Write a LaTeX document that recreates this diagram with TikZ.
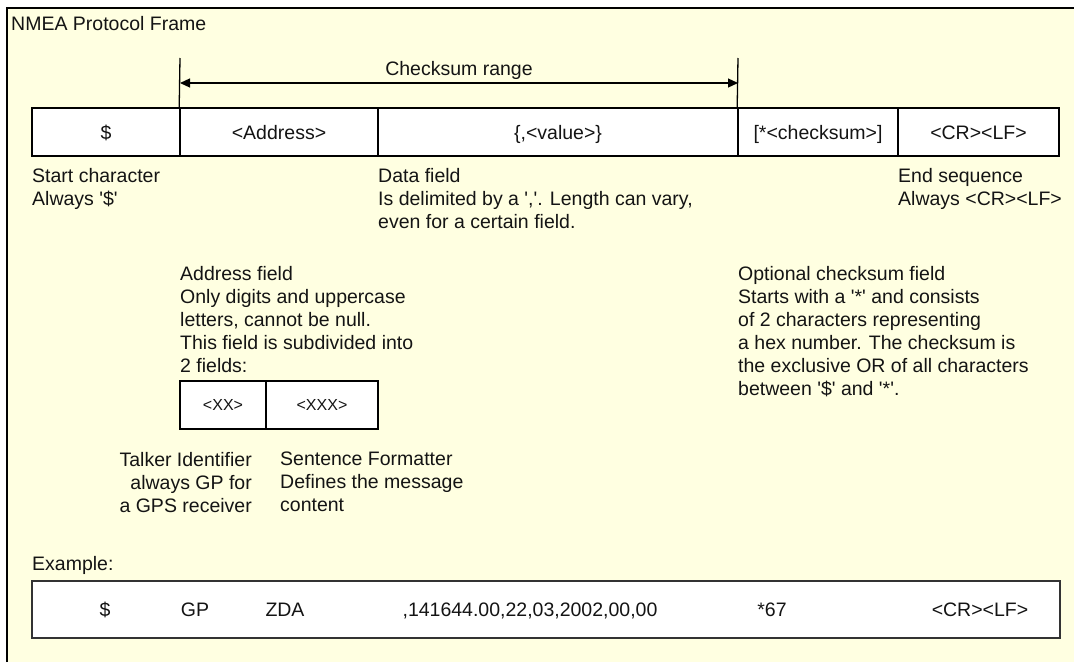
\documentclass[tikz,border=0pt]{standalone}
\usepackage{fontspec}
\newfontfamily\arialf{Liberation Sans}
\usetikzlibrary{arrows.meta}
\definecolor{bgyellow}{RGB}{255,255,225}
\definecolor{inkc}{RGB}{20,20,20}
\begin{document}
\begin{tikzpicture}[x=1pt,y=-1pt,
  txt/.style={font=\arialf\fontsize{19.5}{23}\selectfont, inner sep=0pt, text=inkc},
  blk/.style={txt, align=left, anchor=north west},
  cell/.style={draw=black, line width=1.6pt, fill=white, minimum height=48pt, inner sep=0pt,
    text height=14pt, text depth=0pt, font=\arialf\fontsize{19.5}{23}\selectfont, text=inkc},
  subcell/.style={cell, font=\arialf\fontsize{16}{18}\selectfont, text height=11.5pt},
  tick/.style={line width=1.3pt, draw=black},
  rng/.style={line width=1.2pt, {Triangle[length=10pt,width=9pt]}-{Triangle[length=10pt,width=9pt]}},
  ex/.style={txt, anchor=base}
]
\useasboundingbox (0,0) rectangle (1074,662);
\fill[white] (0,0) rectangle (1074,662);
\fill[bgyellow] (7,8) rectangle (1074,662);
\draw[line width=2pt, draw=black] (7,662) -- (7,8) -- (1074,8);

% title
\node[blk] (title) at (11,16) {NMEA Protocol Frame};

% main frame
\node[cell, minimum width=148pt] (c1) at (106,132) {\$};
\node[cell, minimum width=198pt] (c2) at (279,132) {<Address>};
\node[cell, minimum width=360pt] (c3) at (558,132) {\{,<value>\}};
\node[cell, minimum width=160pt] (c4) at (818,132) {[*<checksum>]};
\node[cell, minimum width=161pt] (c5) at (978.5,132) {<CR><LF>};

% checksum range
\coordinate (tL) at (180,58);
\coordinate (tR) at (738,58);
\coordinate (aL) at (180,83);
\coordinate (aR) at (738,83);
\draw[tick] (c2.north west) -- (tL);
\draw[tick] (c4.north west) -- (tR);
\draw[rng] (aL) -- (aR);
\node[ex] (crange) at (459,75) {Checksum range};

% descriptions
\node[blk] (start) at (32,168) {Start character\\Always '\$'};
\node[blk] (data) at (378,168) {Data field\\Is delimited by a ','. Length can vary,\\even for a certain field.};
\node[blk] (endseq) at (898,168) {End sequence\\Always <CR><LF>};

\node[blk] (addr) at (180,266) {Address field\\Only digits and uppercase\\letters, cannot be null.\\This field is subdivided into\\2 fields:};
\node[subcell, minimum width=86pt] (xx) at (223,405) {<XX>};
\node[subcell, minimum width=112pt] (xxx) at (322,405) {<XXX>};
\node[txt, align=right, anchor=north east] (talker) at (252,452) {Talker Identifier\\always GP for\\a GPS receiver};
\node[blk] (sent) at (280,452) {Sentence Formatter\\Defines the message\\content};

\node[blk] (opt) at (738,266) {Optional checksum field\\Starts with a '*' and consists\\of 2 characters representing\\a hex number. The checksum is\\the exclusive OR of all characters\\between '\$' and '*'.};

% example
\node[blk] (exlabel) at (32,556) {Example:};
\node[draw=black!80, line width=1.6pt, fill=white, minimum width=1028pt, minimum height=57pt, inner sep=0pt] (exbox) at (546,609.5) {};
\node[ex] (e1) at (105,616) {\$};
\node[ex] (e2) at (195,616) {GP};
\node[ex] (e3) at (285,616) {ZDA};
\node[ex] (e4) at (530,616) {,141644.00,22,03,2002,00,00};
\node[ex] (e5) at (772,616) {*67};
\node[ex] (e6) at (980,616) {<CR><LF>};
\end{tikzpicture}
\end{document}
